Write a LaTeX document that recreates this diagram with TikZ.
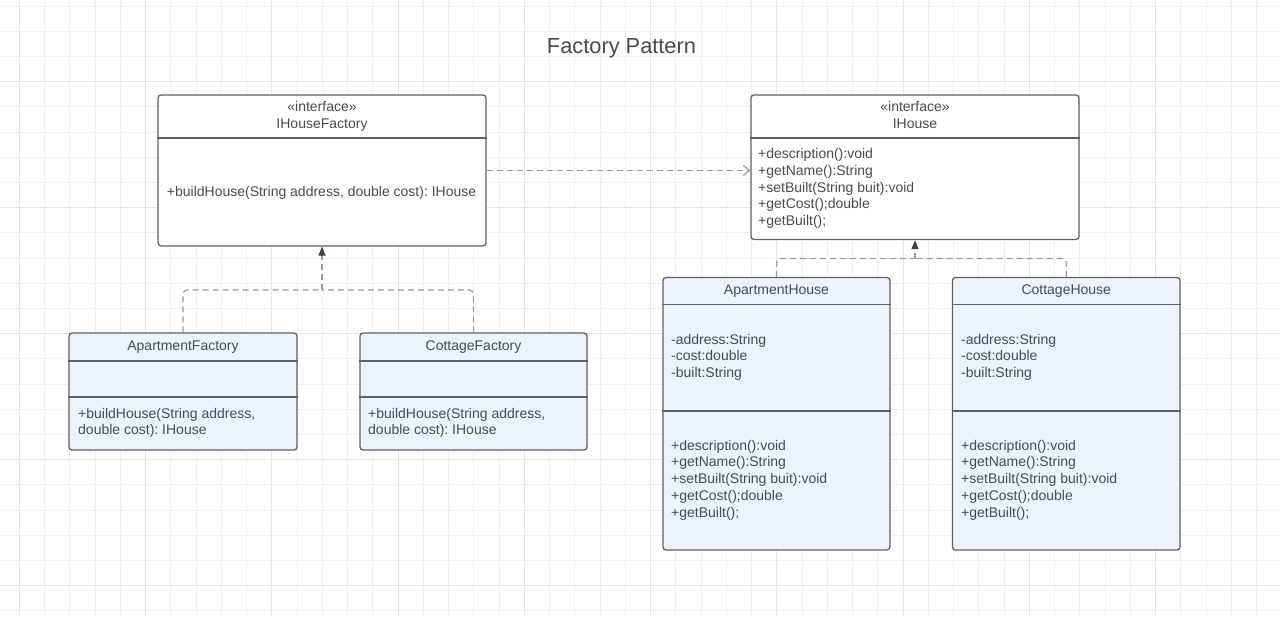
\documentclass[tikz,border=0pt]{standalone}
\usepackage{fontspec}
\setmainfont{Liberation Sans}
\frenchspacing
\usetikzlibrary{arrows.meta}
\definecolor{txtc}{RGB}{70,75,83}
\definecolor{boxc}{RGB}{92,96,104}
\definecolor{fillc}{RGB}{236,243,254}
\definecolor{dashc}{RGB}{150,153,158}
\definecolor{headc}{RGB}{58,65,74}
\definecolor{gridminor}{RGB}{240,240,240}
\definecolor{gridmajor}{RGB}{229,229,229}
\tikzset{
  umlbox/.style={draw=boxc, line width=1.3pt, rounded corners=3pt, inner sep=0pt},
  ifacebox/.style={umlbox, fill=white},
  classbox/.style={umlbox, fill=fillc},
  divider/.style={draw=boxc, line width=1.3pt},
  txt/.style={text=txtc, inner sep=0pt, font=\fontsize{14}{16.8}\selectfont},
  mlines/.style={txt, anchor=north west, align=left},
  dep/.style={draw=dashc, line width=1.2pt, dash pattern=on 6pt off 4pt},
  realiz/.style={dep, -{Triangle[length=9pt,width=7pt,fill=headc,color=headc]}},
  usesarrow/.style={dep, -{Straight Barb[length=6pt,width=10pt,color=dashc]}}
}
\begin{document}
\begin{tikzpicture}[x=1pt,y=-1pt]
\useasboundingbox[fill=white] (0,0) rectangle (1280,616);
% grid
\foreach \k in {0,...,50} {
  \pgfmathsetmacro\xx{19.3+25.25*\k}
  \pgfmathtruncatemacro\mm{mod(\k,5)}
  \ifnum\mm=0
    \draw[gridmajor, line width=1pt] (\xx,0) -- (\xx,616);
  \else
    \draw[gridminor, line width=1pt] (\xx,0) -- (\xx,616);
  \fi
}
\foreach \k in {0,...,24} {
  \pgfmathsetmacro\yy{6+25.2*\k}
  \pgfmathtruncatemacro\mm{mod(\k,5)}
  \ifnum\mm=3
    \draw[gridmajor, line width=1pt] (0,\yy) -- (1280,\yy);
  \else
    \draw[gridminor, line width=1pt] (0,\yy) -- (1280,\yy);
  \fi
}
% title
\node[txt, font=\fontsize{21.8}{26}\selectfont, anchor=base] (title) at (621.5,53.8) {Factory Pattern};

% IHouseFactory
\node[ifacebox, minimum width=328pt, minimum height=151pt] (ihf) at (322,170.5) {};
\draw[divider] (ihf.west |- 0,138) -- (ihf.east |- 0,138);
\node[txt, anchor=base] (ihfst) at (322,111) {«interface»};
\node[txt, anchor=base] (ihfname) at (322,128) {IHouseFactory};
\node[txt, anchor=base west] (ihfm) at (166.7,196) {+buildHouse(String address, double cost): IHouse};

% IHouse
\node[ifacebox, minimum width=328pt, minimum height=144.5pt] (ih) at (915,167.25) {};
\draw[divider] (ih.west |- 0,138) -- (ih.east |- 0,138);
\node[txt, anchor=base] (ihst) at (915,111) {«interface»};
\node[txt, anchor=base] (ihname) at (915,128) {IHouse};
\node[mlines] (ihm) at (758,146.5) {\strut+description():void\\\strut+getName():String\\\strut+setBuilt(String buit):void\\\strut+getCost();double\\\strut+getBuilt();};

% ApartmentFactory
\node[classbox, minimum width=228pt, minimum height=117pt] (af) at (183,391.5) {};
\draw[divider] (af.west |- 0,361) -- (af.east |- 0,361);
\draw[divider] (af.west |- 0,397) -- (af.east |- 0,397);
\node[txt, anchor=base] (afname) at (183,350) {ApartmentFactory};
\node[mlines] (afm) at (78,406.2) {\strut+buildHouse(String address,\\\strut double cost): IHouse};

% CottageFactory
\node[classbox, minimum width=227pt, minimum height=117pt] (cf) at (473.5,391.5) {};
\draw[divider] (cf.west |- 0,361) -- (cf.east |- 0,361);
\draw[divider] (cf.west |- 0,397) -- (cf.east |- 0,397);
\node[txt, anchor=base] (cfname) at (473.5,350) {CottageFactory};
\node[mlines] (cfm) at (368,406.2) {\strut+buildHouse(String address,\\\strut double cost): IHouse};

% ApartmentHouse
\node[classbox, minimum width=227pt, minimum height=272.5pt] (ah) at (776.5,413.75) {};
\draw[divider] (ah.west |- 0,304.5) -- (ah.east |- 0,304.5);
\draw[divider] (ah.west |- 0,411) -- (ah.east |- 0,411);
\node[txt, anchor=base] (ahname) at (776.5,294.5) {ApartmentHouse};
\node[mlines] (aha) at (671,332.2) {\strut-address:String\\\strut-cost:double\\\strut-built:String};
\node[mlines] (ahm) at (671,438.2) {\strut+description():void\\\strut+getName():String\\\strut+setBuilt(String buit):void\\\strut+getCost();double\\\strut+getBuilt();};

% CottageHouse
\node[classbox, minimum width=227.5pt, minimum height=272.5pt] (ch) at (1066.25,413.75) {};
\draw[divider] (ch.west |- 0,304.5) -- (ch.east |- 0,304.5);
\draw[divider] (ch.west |- 0,411) -- (ch.east |- 0,411);
\node[txt, anchor=base] (chname) at (1066.25,294.5) {CottageHouse};
\node[mlines] (cha) at (961,332.2) {\strut-address:String\\\strut-cost:double\\\strut-built:String};
\node[mlines] (chm) at (961,438.2) {\strut+description():void\\\strut+getName():String\\\strut+setBuilt(String buit):void\\\strut+getCost();double\\\strut+getBuilt();};

% connectors
\coordinate (jf) at (322,290);
\coordinate (jh) at (915,258.5);
\draw[dep, rounded corners=4pt] (af.north) |- (jf);
\draw[dep, rounded corners=4pt] (cf.north) |- (jf);
\draw[realiz] (jf) -- (ihf.south);
\draw[dep, rounded corners=4pt] (ah.north) |- (jh);
\draw[dep, rounded corners=4pt] (ch.north) |- (jh);
\draw[realiz] (jh) -- (ih.south);
\draw[usesarrow] (ihf.east) -- (ihf.east -| ih.west);
\end{tikzpicture}
\end{document}
